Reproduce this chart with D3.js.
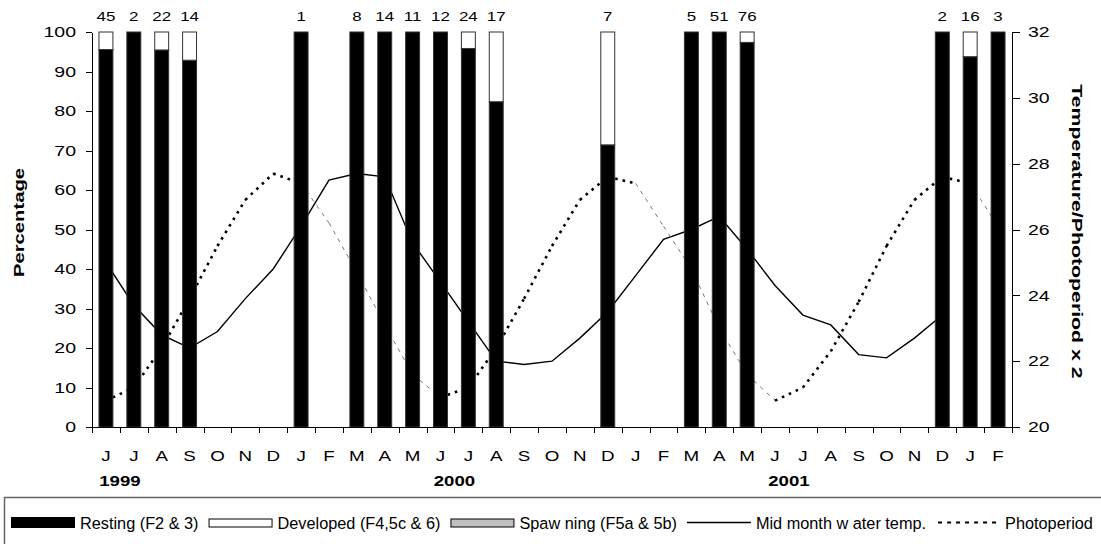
<!DOCTYPE html>
<html>
<head>
<meta charset="utf-8">
<script src="https://cdn.jsdelivr.net/npm/d3@7"></script>
<style>
  html, body { margin: 0; padding: 0; background: #fff; }
  svg { display: block; font-family: "Liberation Sans", Arial, sans-serif; }
</style>
</head>
<body>
<svg id="chart" width="1101" height="544"></svg>
<script>
// Months from June 1999 to February 2002
const monthLabels = ["J","J","A","S","O","N","D",
  "J","F","M","A","M","J","J","A","S","O","N","D",
  "J","F","M","A","M","J","J","A","S","O","N","D",
  "J","F"];
const yearLabels = ["1999", "2000", "2001"];
const yearJuneIndex = [0, 12, 24];

// Monthly samples: month index, fish examined, and counts per gonad stage
const sampleMonth    = [0, 1, 2, 3, 7, 9, 10, 11, 12, 13, 14, 18, 21, 22, 23, 30, 31, 32];
const sampleSize     = [45, 2, 22, 14, 1, 8, 14, 11, 12, 24, 17, 7, 5, 51, 76, 2, 16, 3];
const restingCount   = [43, 2, 21, 13, 1, 8, 14, 11, 12, 23, 14, 5, 5, 51, 74, 2, 15, 3];
const spawningCount  = [0, 0, 0, 0, 0, 0, 0, 0, 0, 0, 0, 0, 0, 0, 0, 0, 0, 0];
const developedCount = [2, 0, 1, 1, 0, 0, 0, 0, 0, 1, 3, 2, 0, 0, 2, 0, 1, 0];

// Mid-month water temperature (°C), June 1999 – December 2001
const waterTemp = [25.0, 23.7, 22.8, 22.4, 22.9, 23.9, 24.8,
  26.1, 27.5, 27.7, 27.6, 25.6, 24.4, 23.2, 22.0, 21.9, 22.0, 22.7, 23.5,
  24.6, 25.7, 26.0, 26.4, 25.4, 24.3, 23.4, 23.1, 22.2, 22.1, 22.7, 23.4];

// Photoperiod (hours x 2), June 1999 – February 2002
const photoperiod = [20.8, 21.2, 22.4, 23.9, 25.5, 26.9, 27.7,
  27.4, 26.2, 24.7, 23.1, 21.6, 20.9, 21.2, 22.4, 23.9, 25.5, 26.9, 27.6,
  27.4, 26.1, 24.8, 23.0, 21.6, 20.8, 21.2, 22.3, 23.8, 25.5, 26.9, 27.6,
  27.4, 26.1];

const pctTicks = d3.range(0, 101, 10);
const tempTicks = d3.range(20, 33, 2);

const legendLabels = ["Resting (F2 & 3)", "Developed (F4,5c & 6)", "Spaw ning (F5a & 5b)",
  "Mid month w ater temp.", "Photoperiod"];

// ---------------------------------------------------------------------------
const svg = d3.select("#chart");
const FONT = "'Liberation Sans', Arial, sans-serif";
const plot = { left: 92, right: 1012, top: 32, bottom: 427 };

const x = d3.scaleBand().domain(d3.range(monthLabels.length)).range([plot.left, plot.right]);
const xEdge = d3.scaleLinear().domain([0, monthLabels.length]).range([plot.left, plot.right]);
const yPct = d3.scaleLinear().domain([0, 100]).range([plot.bottom, plot.top]);
const yTemp = d3.scaleLinear().domain([20, 32]).range([plot.bottom, plot.top]);
const cx = i => x(i) + x.bandwidth() / 2;

// widen glyphs along the text direction
function stretch(sel, k) {
  sel.each(function () {
    const w = this.getComputedTextLength();
    this.setAttribute("textLength", (w * k).toFixed(2));
    this.setAttribute("lengthAdjust", "spacingAndGlyphs");
  });
}

// ---- lines (drawn beneath the bars) ----
const lines = svg.append("g");
lines.append("path")
  .datum(waterTemp)
  .attr("fill", "none")
  .attr("stroke", "#000")
  .attr("stroke-width", 1.4)
  .attr("d", d3.line().x((d, i) => cx(i)).y(d => yTemp(d)));

const segLine = d3.line().x(d => cx(d[0])).y(d => yTemp(d[1]));
d3.range(photoperiod.length - 1).forEach(i => {
  const a = [i, photoperiod[i]], b = [i + 1, photoperiod[i + 1]];
  const falling = a[1] - b[1] > 0.45;
  lines.append("path")
    .datum([a, b])
    .attr("fill", "none")
    .attr("stroke", falling ? "#666" : "#000")
    .attr("stroke-width", falling ? 0.9 : 2.6)
    .attr("stroke-dasharray", falling ? "4,5" : "2.6,5")
    .attr("d", segLine);
});

// ---- stacked 100% bars ----
const rows = sampleMonth.map((m, i) => {
  const n = sampleSize[i];
  return { month: m, n,
    resting: restingCount[i] / n * 100,
    spawning: spawningCount[i] / n * 100,
    developed: developedCount[i] / n * 100 };
});
const stackKeys = ["resting", "spawning", "developed"];
const stackFill = { resting: "#000", spawning: "#c0c0c0", developed: "#fff" };
const series = d3.stack().keys(stackKeys)(rows);
const barW = x.bandwidth() * 0.5;

const bars = svg.append("g");
series.forEach(s => {
  bars.append("g")
    .attr("fill", stackFill[s.key])
    .attr("stroke", "#333")
    .attr("stroke-width", 1)
    .selectAll("rect")
    .data(s.filter(d => d[1] - d[0] > 0.001))
    .join("rect")
    .attr("x", d => cx(d.data.month) - barW / 2)
    .attr("width", barW)
    .attr("y", d => yPct(d[1]))
    .attr("height", d => yPct(d[0]) - yPct(d[1]));
});

// sample sizes above the bars
const counts = svg.append("g")
  .selectAll("text")
  .data(rows)
  .join("text")
  .attr("x", d => cx(d.month))
  .attr("y", 20.5)
  .attr("text-anchor", "middle")
  .attr("font-family", FONT)
  .attr("font-size", 13)
  .attr("fill", "#000")
  .text(d => d.n);
stretch(counts, 1.3);

// ---- axes ----
function styleAxis(g) {
  g.attr("font-family", FONT).attr("font-size", 15);
  g.selectAll("path, line").attr("stroke", "#000").attr("shape-rendering", "crispEdges");
  g.selectAll("text").attr("fill", "#000");
}

const leftAxis = svg.append("g")
  .attr("transform", `translate(${plot.left},0)`)
  .call(d3.axisLeft(yPct).tickValues(pctTicks).tickSize(6).tickSizeOuter(0).tickPadding(10))
  .call(styleAxis);
stretch(leftAxis.selectAll("text"), 1.3);

const rightAxis = svg.append("g")
  .attr("transform", `translate(${plot.right},0)`)
  .call(d3.axisRight(yTemp).tickValues(tempTicks).tickSize(8).tickSizeOuter(0).tickPadding(8))
  .call(styleAxis);
stretch(rightAxis.selectAll("text"), 1.3);

svg.append("g")
  .attr("transform", `translate(0,${plot.bottom})`)
  .call(d3.axisBottom(xEdge).tickValues(d3.range(monthLabels.length + 1))
    .tickSize(6).tickSizeOuter(0).tickFormat(""))
  .call(styleAxis);

const monthAxis = svg.append("g")
  .attr("transform", `translate(0,${plot.bottom})`)
  .call(d3.axisBottom(x).tickSize(0).tickPadding(23).tickFormat(i => monthLabels[i]))
  .call(styleAxis);
monthAxis.select(".domain").remove();
stretch(monthAxis.selectAll("text"), 1.25);

// year labels, centred on the June/July boundary
const years = svg.append("g")
  .selectAll("text")
  .data(yearLabels)
  .join("text")
  .attr("x", (d, i) => xEdge(yearJuneIndex[i] + 1))
  .attr("y", 486)
  .attr("text-anchor", "middle")
  .attr("font-family", FONT)
  .attr("font-size", 15.5)
  .attr("font-weight", "bold")
  .text(d => d);
stretch(years, 1.2);

// axis titles
const leftTitle = svg.append("text")
  .attr("transform", `translate(24,${(168 + 277) / 2}) rotate(-90)`)
  .attr("text-anchor", "middle")
  .attr("font-family", FONT)
  .attr("font-size", 15)
  .attr("font-weight", "bold")
  .text("Percentage");
stretch(leftTitle, 1.35);

const rightTitle = svg.append("text")
  .attr("transform", `translate(1071.5,${(83 + 380) / 2}) rotate(90)`)
  .attr("text-anchor", "middle")
  .attr("font-family", FONT)
  .attr("font-size", 15)
  .attr("font-weight", "bold")
  .text("Temperature/Photoperiod x 2");
stretch(rightTitle, 1.42);

// ---- legend ----
const legend = svg.append("g");
legend.append("rect")
  .attr("x", 4.5).attr("y", 497.5)
  .attr("width", 1110).attr("height", 70)
  .attr("fill", "#fff")
  .attr("stroke", "#666")
  .attr("stroke-width", 1.5);

const swW = 64, legendMidY = 522.5;
let lx = 11;
legendLabels.forEach((label, i) => {
  const g = legend.append("g");
  if (i === 0) {
    g.append("rect").attr("x", lx).attr("y", legendMidY - 5.5).attr("width", swW).attr("height", 11)
      .attr("fill", "#000");
  } else if (i === 1 || i === 2) {
    g.append("rect").attr("x", lx + 0.5).attr("y", legendMidY - 3.5).attr("width", swW - 1).attr("height", 8)
      .attr("fill", i === 1 ? "#fff" : "#c0c0c0").attr("stroke", "#000").attr("stroke-width", 1);
  } else if (i === 3) {
    g.append("line").attr("x1", lx).attr("x2", lx + swW).attr("y1", legendMidY).attr("y2", legendMidY)
      .attr("stroke", "#000").attr("stroke-width", 1.3);
  } else {
    g.append("line").attr("x1", lx + 2).attr("x2", lx + swW).attr("y1", legendMidY).attr("y2", legendMidY)
      .attr("stroke", "#000").attr("stroke-width", 2).attr("stroke-dasharray", "4,5");
  }
  const t = g.append("text")
    .attr("x", lx + swW + 5)
    .attr("y", legendMidY + 6)
    .attr("font-family", FONT)
    .attr("font-size", 16.3)
    .attr("fill", "#000")
    .text(label);
  lx += swW + 5 + t.node().getComputedTextLength() + 10;
});
</script>
</body>
</html>
